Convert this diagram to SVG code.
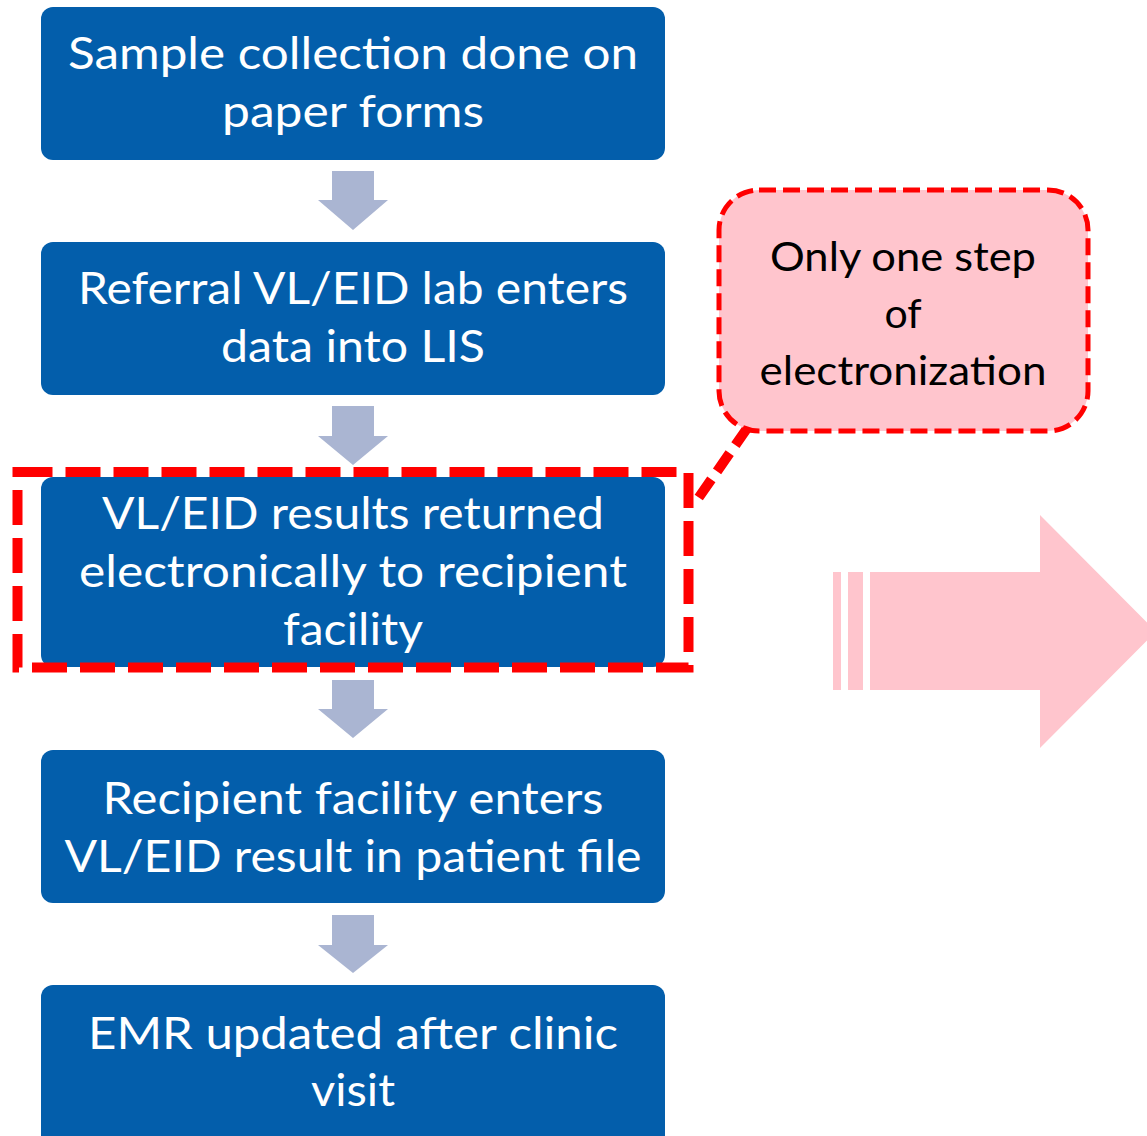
<svg xmlns="http://www.w3.org/2000/svg" width="1147" height="1136" viewBox="0 0 1147 1136">
  <style>
    .box { fill: #035EAB; }
    .step { fill: #FFFFFF; font-family: Lato, "Liberation Sans", sans-serif; font-size: 45px; text-anchor: middle; }
    .note { fill: #000000; font-family: Lato, "Liberation Sans", sans-serif; font-size: 41px; text-anchor: middle; }
    .flow { fill: #AAB5D2; }
    .hl { fill: none; stroke: #FF0000; stroke-width: 10; stroke-dasharray: 35 13; }
  </style>
  <rect width="1147" height="1136" fill="#FFFFFF"/>

  <!-- process steps -->
  <g id="step1">
    <rect class="box" x="41" y="7" width="624" height="153" rx="12"/>
    <text class="step" x="353" y="69" textLength="570" lengthAdjust="spacingAndGlyphs">Sample collection done on</text>
    <text class="step" x="353" y="127" textLength="262" lengthAdjust="spacingAndGlyphs">paper forms</text>
  </g>
  <g id="step2">
    <rect class="box" x="41" y="242" width="624" height="153" rx="12"/>
    <text class="step" x="353" y="304" textLength="550" lengthAdjust="spacingAndGlyphs">Referral VL/EID lab enters</text>
    <text class="step" x="353" y="362" textLength="264" lengthAdjust="spacingAndGlyphs">data into LIS</text>
  </g>
  <g id="step3">
    <rect class="box" x="41" y="477" width="624" height="190" rx="12"/>
    <text class="step" x="353" y="529" textLength="502" lengthAdjust="spacingAndGlyphs">VL/EID results returned</text>
    <text class="step" x="353" y="587" textLength="548" lengthAdjust="spacingAndGlyphs">electronically to recipient</text>
    <text class="step" x="353" y="645" textLength="140" lengthAdjust="spacingAndGlyphs">facility</text>
  </g>
  <g id="step4">
    <rect class="box" x="41" y="750" width="624" height="153" rx="12"/>
    <text class="step" x="353" y="814" textLength="501" lengthAdjust="spacingAndGlyphs">Recipient facility enters</text>
    <text class="step" x="353" y="872" textLength="577" lengthAdjust="spacingAndGlyphs">VL/EID result in patient file</text>
  </g>
  <g id="step5">
    <rect class="box" x="41" y="985" width="624" height="170" rx="12"/>
    <text class="step" x="353" y="1049" textLength="530" lengthAdjust="spacingAndGlyphs">EMR updated after clinic</text>
    <text class="step" x="353" y="1106" textLength="84" lengthAdjust="spacingAndGlyphs">visit</text>
  </g>

  <!-- down arrows between steps -->
  <g id="connectors">
    <polygon class="flow" points="330,171 374,171 374,200 388,200 353,230 318,200 332,200 332,171"/>
    <polygon class="flow" points="332,406 374,406 374,436 388,436 353,465 318,436 332,436"/>
    <polygon class="flow" points="332,680 374,680 374,709 388,709 353,738 318,709 332,709"/>
    <polygon class="flow" points="332,915 374,915 374,945 388,945 353,973 318,945 332,945"/>
  </g>

  <!-- highlight around the electronic step -->
  <g id="highlight">
    <rect class="hl" x="17.5" y="472" width="671" height="195.5"/>
  </g>

  <!-- callout -->
  <g id="callout">
    <line x1="748" y1="427" x2="697" y2="500" stroke="#FF0000" stroke-width="10" stroke-dasharray="22 10"/>
    <rect x="719" y="190" width="369" height="241" rx="40" fill="#FFC5CD" stroke="#FF0000" stroke-width="5" stroke-dasharray="17 7"/>
    <text class="note" x="903" y="271" textLength="266" lengthAdjust="spacingAndGlyphs">Only one step</text>
    <text class="note" x="903" y="328">of</text>
    <text class="note" x="903" y="385" textLength="287" lengthAdjust="spacingAndGlyphs">electronization</text>
  </g>

  <!-- striped block arrow -->
  <g id="bigArrow" fill="#FFC5CD">
    <rect x="833" y="572" width="8" height="118"/>
    <rect x="848" y="572" width="15" height="118"/>
    <polygon points="870,572 1040,572 1040,515 1156,631.5 1040,748 1040,690 870,690"/>
  </g>
</svg>
